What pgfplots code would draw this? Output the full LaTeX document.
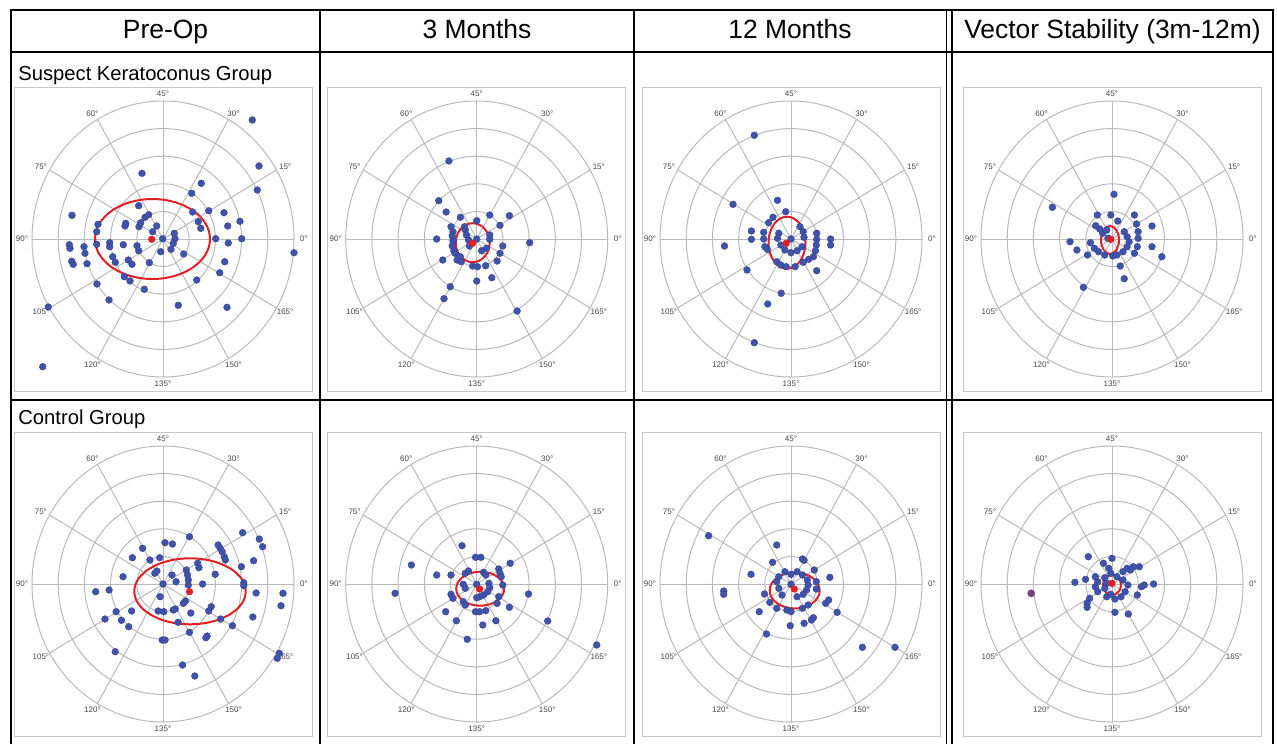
\documentclass[border=0pt]{standalone}
\usepackage{pgfplots}
\pgfplotsset{compat=1.18}
\usepackage{fontspec}
\setmainfont{Liberation Sans}
\definecolor{dotblue}{RGB}{64,82,170}
\definecolor{dotred}{RGB}{224,32,36}
\definecolor{gridc}{RGB}{185,185,185}
\definecolor{framec}{RGB}{200,200,200}
\definecolor{labc}{RGB}{70,70,70}

\newcommand{\polargrid}{%
  \pgfplotsinvokeforeach{1,2,3,4,5}{\draw[gridc,line width=0.5pt] (axis cs:0,0) ellipse [x radius={26.2*##1}, y radius={27.6*##1}];}
  \pgfplotsinvokeforeach{0,30,...,330}{\draw[gridc,line width=0.5pt] (axis cs:0,0) -- (axis cs:{131*cos(##1)},{138*sin(##1)});}
  \pgfplotsinvokeforeach{0,30,...,330}{\node[labc,inner sep=0pt,font=\fontsize{4}{4}\selectfont] at (axis cs:{141*cos(##1)},{145*sin(##1)}) {\pgfmathparse{int(##1/2)}\pgfmathresult°};}
}

\pgfplotsset{
  panel/.style={scale only axis, width=149pt, height=152pt,
    xmin=-149, xmax=149, ymin=-152, ymax=152, ticks=none,
    axis line style={draw=framec, line width=0.5pt}, clip=false, anchor=center},
  bluedots/.style={only marks, mark=*, mark size=1.7pt,
    mark options={fill=dotblue, draw=dotblue!85!black, line width=0.2pt}},
  reddot/.style={only marks, mark=*, mark size=1.6pt,
    mark options={fill=dotred, draw=dotred}},
}
\tikzset{redell/.style={draw=dotred, line width=1pt}}

\begin{document}
\begin{tikzpicture}
\useasboundingbox (0,0) rectangle (638.5pt,-372pt);

% ---------- Row 1: Suspect Keratoconus Group ----------
\begin{axis}[panel, at={(81.5pt,-119.5pt)}]
\polargrid
\addplot[bluedots] coordinates {
(89.3,119) (96,73) (94.3,49) (38.3,55.7) (28.7,45.7) (-21,65.7) (45.7,28.3) (29.7,27) (35.3,17.3) (37.7,10.7)
(61,26.3) (77,17.7) (64.7,13) (52.7,0.3) (65.3,-4) (78.7,0.3) (131,-13.7) (61.7,-22.7) (56.7,-33.7) (33.7,-41)
(15.3,-66.3) (64,-68.3) (-114.7,-68) (-120.3,-127.7) (-91,23.7) (-65,14.7) (-66.3,7.3) (-66.3,-5.3) (-93.7,-5.7) (-93,-9.3)
(-79,-7.7) (-78,-14.3) (-91.3,-22.3) (-89.7,-25.3) (-76,-24.7) (-53.3,-3.7) (-53.3,-7.7) (-39.7,-5.7) (-50.3,-17.7) (-47.7,-23.3)
(-34.7,-21) (-31,-25.3) (-26,-6.7) (-24.3,-11.7) (-13.7,-23.7) (-38.7,-37.7) (-33,-42) (-18.7,-50.3) (-66,-45) (-54,-61)
(-24.3,33.3) (-18,21.7) (-14.3,24.3) (-24,12.3) (-22.3,16.3) (-38,13) (-37.3,15.7) (-10.3,7.3) (-6.3,13) (-0.3,0.3)
(11.3,5.7) (12,0.3) (10.3,-4.3) (8,-10.3) (-2.3,-12.7) (20.7,-15)
};
\draw[redell] (axis cs:-10.5,0) ellipse [x radius=57.5, y radius=40];
\addplot[reddot] coordinates {(-11.3,-0.3)};
\end{axis}

\begin{axis}[panel, at={(238.35pt,-119.5pt)}]
\polargrid
\addplot[bluedots] coordinates {
(-27.8,78) (-38,38.3) (-30.6,27) (-16.3,21.7) (0,18.3) (13,24) (32.7,23.3) (23.3,13.7) (-40,0) (-25.7,12.3)
(-23.7,7.3) (-24.5,3) (-23.7,-1.7) (-24.5,-7) (-22.9,-11.7) (-11.4,9) (-10.2,4) (-8.2,-1) (-12.2,12.3) (-7.3,-7)
(0,0) (13,4) (13,-0.3) (9.8,-9.3) (4.9,-11.7) (26.1,-7) (23.3,-14.3) (20.4,-22) (-33.9,-21) (-19.6,-21)
(-15.5,-22.7) (-4.1,-27) (0.8,-27.7) (9,-26.7) (0,-42) (15.1,-38.7) (-26.5,-47.7) (-32.7,-59.7) (40.4,-72) (53,-3.7)
(-21.6,-14.3) (-16.3,-17.7)
};
\draw[redell] (axis cs:-4,-3.7) ellipse [x radius=17, y radius=19.5];
\addplot[reddot] coordinates {(-4.1,-4.3)};
\end{axis}

\begin{axis}[panel, at={(395.5pt,-119.5pt)}]
\polargrid
\addplot[bluedots] coordinates {
(-36.7,103.7) (-58,34.7) (-13.5,38.7) (-5.3,27.3) (-18,21.7) (-22.4,16.3) (-39.6,8) (-39.6,-0.3) (-66.5,-7) (-27.3,6.7)
(-27.3,0) (-26.1,-7.7) (-23.7,-10.3) (-12.2,5.7) (-13.5,0.7) (-10.2,-6) (-6.1,-11) (0,-13.7) (6.1,-11.7) (11,-7.7)
(0,0) (9,12.3) (12.2,7.3) (13,1.7) (25.7,5.7) (25.7,-0.3) (25.3,-6) (24.5,-11.7) (22.4,-17.7) (39.6,0)
(39.6,-6) (12.2,-23.3) (17.6,-20.3) (25.7,-31.7) (-14.3,-22.7) (-10.2,-26) (-4.9,-27.7) (4.1,-27.7) (-44,-31) (-9.8,-54.3)
(-23.3,-65) (-36.7,-103.7)
};
\draw[redell] (axis cs:-4,-3.7) ellipse [x radius=18.5, y radius=26];
\addplot[reddot] coordinates {(-4.9,-4.3)};
\end{axis}

\begin{axis}[panel, at={(556pt,-119.5pt)}]
\polargrid
\addplot[bluedots] coordinates {
(-59.6,31.7) (2,44.7) (-14.7,24) (-1.2,24) (5.7,18) (22.4,24) (40,13) (-16.3,13.3) (-12.2,10) (-9.4,5.7)
(-42,-2.7) (-35.1,-11) (-24.5,-16) (-21.6,-3.7) (-17.6,-9.3) (-13.5,-12.7) (-7.3,-16) (0.8,-17) (-5.3,9) (-4.1,0.7)
(12.2,7.3) (15.1,2.3) (17.1,-2.7) (15.1,-7.7) (11,-12.7) (4.9,-16) (24.5,15) (26.1,7.3) (26.1,0.7) (25.3,-7.7)
(22.4,-14.3) (40,-7.7) (49.8,-17.7) (8.2,-27) (12.2,-39.7) (-28.6,-48.3)
};
\draw[redell] (axis cs:-2,-1) ellipse [x radius=9, y radius=14];
\addplot[reddot] coordinates {(-1.2,-0.3)};
\end{axis}

% ---------- Row 2: Control Group ----------
\begin{axis}[panel, at={(81.5pt,-292pt)}]
\polargrid
\addplot[bluedots] coordinates {
(26.5,47.3) (2,41.3) (9.4,40) (-20.4,35.7) (-30.6,26.3) (-13.1,24) (-3.3,26.3) (79.6,51.3) (96.3,45) (99.6,37.3)
(55.1,39) (57.1,35.7) (59.2,32.3) (61.2,27.3) (62.4,24) (90.6,23.3) (78.4,17.3) (34.7,20.7) (35.9,16.3) (23.3,14)
(24.5,9) (25.3,4) (25.3,-1) (52.2,9.7) (39.6,0) (-8.2,10.7) (-6.1,13) (9,9) (13.1,2.3) (0,0)
(-40,7.3) (80.8,1.3) (80.8,-1.7) (-67.3,-7.7) (-53.9,-6) (-2.9,-12.7) (93.1,-9) (120,-9.3) (118,-21.7) (22.4,-17)
(20.4,-19.3) (12.2,-25) (10.2,-26) (-4.9,-27) (0.8,-27.7) (-31.4,-27) (-46.9,-27.7) (-58,-35) (-41.6,-36.3) (-34.3,-42.7)
(15.1,-38.3) (27.8,-29) (48.2,-22.7) (45.7,-27) (57.6,-35) (69.4,-41.7) (89.8,-33) (26.5,-48.3) (44.1,-52) (42.9,-53.7)
(-0.8,-56) (2,-56) (-47.8,-67.7) (19.6,-81) (31.8,-92) (116.3,-69.3) (114.3,-74.3)
};
\draw[redell] (axis cs:27,-7.3) ellipse [x radius=55.7, y radius=33];
\addplot[reddot] coordinates {(26.5,-7.7)};
\end{axis}

\begin{axis}[panel, at={(238.35pt,-292pt)}]
\polargrid
\addplot[bluedots] coordinates {
(-14.7,38.3) (-1.2,26.7) (4.1,26.7) (-65.3,19) (-40,9) (-25.7,9) (33.5,20.7) (-11.4,10.7) (-8.2,13) (6.9,11.7)
(9,9) (22,15) (23.3,10.7) (24.5,7.3) (-13.5,-0.3) (-11.4,-4.3) (0,-0.3) (12.2,0.7) (13.1,-3.7) (11,-7.7)
(6.9,-11) (2.9,-12.7) (0,-13.7) (26.1,-1) (-81.6,-9.3) (-25.7,-10.3) (-23.7,-14.3) (-13.5,-17.7) (-11.4,-21) (22,-12.7)
(20.4,-19.3) (32.7,-23.3) (51.8,-10) (-31,-27.7) (-20.4,-36.7) (-1.2,-27.7) (2.9,-27.7) (9,-26.7) (6.1,-41) (19.2,-36.7)
(-9.4,-55.3) (71,-37) (120,-61)
};
\draw[redell] (axis cs:3.5,-4.7) ellipse [x radius=24, y radius=17];
\addplot[reddot] coordinates {(2.9,-5)};
\end{axis}

\begin{axis}[panel, at={(395.5pt,-292pt)}]
\polargrid
\addplot[bluedots] coordinates {
(-82.4,48.3) (-14.3,39) (11.4,25) (13.1,23.7) (-18.4,21.7) (-40,9.7) (-67.3,-7) (-67.3,-10.3) (23.3,14) (38.8,6.7)
(-26.5,-10) (-21.2,-18.3) (-31.8,-27.7) (-14.3,-24.3) (0,9.7) (-6.1,12.3) (-12.2,7.3) (-14.3,2.3) (-12.2,-4.3) (-9,-11)
(6.1,12.3) (11.4,9) (16.3,4) (17.1,-1) (15.5,-6) (12.2,-10.3) (6.1,-12.7) (0,-0.3) (25.3,2.3) (25.3,-5)
(-4.1,-26) (0,-27.7) (11.4,-24.3) (17.1,-21) (34.7,-19.3) (37.6,-16) (46.1,-28.3) (13.1,-39.3) (20.4,-36) (22.4,-33.7)
(-0.8,-41.7) (-24.5,-50) (71.4,-63.3) (104,-63.3)
};
\draw[redell] (axis cs:3.7,-6.5) ellipse [x radius=25, y radius=18];
\addplot[reddot] coordinates {(3.3,-5)};
\end{axis}

\begin{axis}[panel, at={(556pt,-292pt)}]
\polargrid
\addplot[bluedots] coordinates {
(-23.7,27.3) (0,25.7) (-8.6,20.7) (-26.5,4.7) (-37.1,1.7) (27.3,17.3) (21.2,17.3) (15.1,15.7) (11,12.3) (18.4,14)
(-3.3,15.7) (-1.2,10.7) (-16.7,7.3) (-14.3,2.3) (-16.7,-2.7) (-14.3,-7.7) (-7.3,6.3) (-5.3,0.7) (-7.3,-4.3) (4.9,7.3)
(11,4) (15.9,-1) (13.1,-7.7) (9,-12.7) (2.9,-15) (29.4,-2.7) (32.2,-1) (41.6,0) (25.3,-11) (-22.4,-14.3)
(-24.9,-19.3) (-24.9,-23.3) (2.9,-28.3) (16.3,-30) (-5.3,-12.7) (-1.2,-10.3)
};
\addplot[only marks, mark=*, mark size=1.7pt, mark options={fill=dotblue!70!dotred, draw=dotblue!70!dotred}] coordinates {(-80.8,-9.3)};
\draw[redell] (axis cs:0,-1) ellipse [x radius=9, y radius=10];
\addplot[reddot] coordinates {(0,0.7)};
\end{axis}

% ---------- Table frame and titles ----------
\begin{scope}[x=0.5pt, y=-0.5pt]
\draw[line width=1.1pt] (11,744) -- (11,10) -- (1273,10) -- (1273,744);
\draw[line width=1.1pt] (11,52) -- (1273,52);
\draw[line width=1.1pt] (11,400) -- (1273,400);
\draw[line width=1.1pt] (320,10) -- (320,744);
\draw[line width=1.1pt] (634,10) -- (634,744);
\draw[line width=0.9pt] (946.5,10) -- (946.5,744);
\draw[line width=0.9pt] (952,10) -- (952,744);
\node[anchor=base, inner sep=0pt, font=\fontsize{13.2}{15}\selectfont] at (165.5,38.5) {Pre-Op};
\node[anchor=base, inner sep=0pt, font=\fontsize{13.2}{15}\selectfont] at (477,38.5) {3 Months};
\node[anchor=base, inner sep=0pt, font=\fontsize{13.2}{15}\selectfont] at (790,38.5) {12 Months};
\node[anchor=base, inner sep=0pt, font=\fontsize{13.2}{15}\selectfont] at (1112.5,38.5) {Vector Stability (3m-12m)};
\node[anchor=base west, inner sep=0pt, font=\fontsize{10.1}{12}\selectfont] at (18,80) {Suspect Keratoconus Group};
\node[anchor=base west, inner sep=0pt, font=\fontsize{10.1}{12}\selectfont] at (18,424) {Control Group};
\end{scope}
\end{tikzpicture}
\end{document}
